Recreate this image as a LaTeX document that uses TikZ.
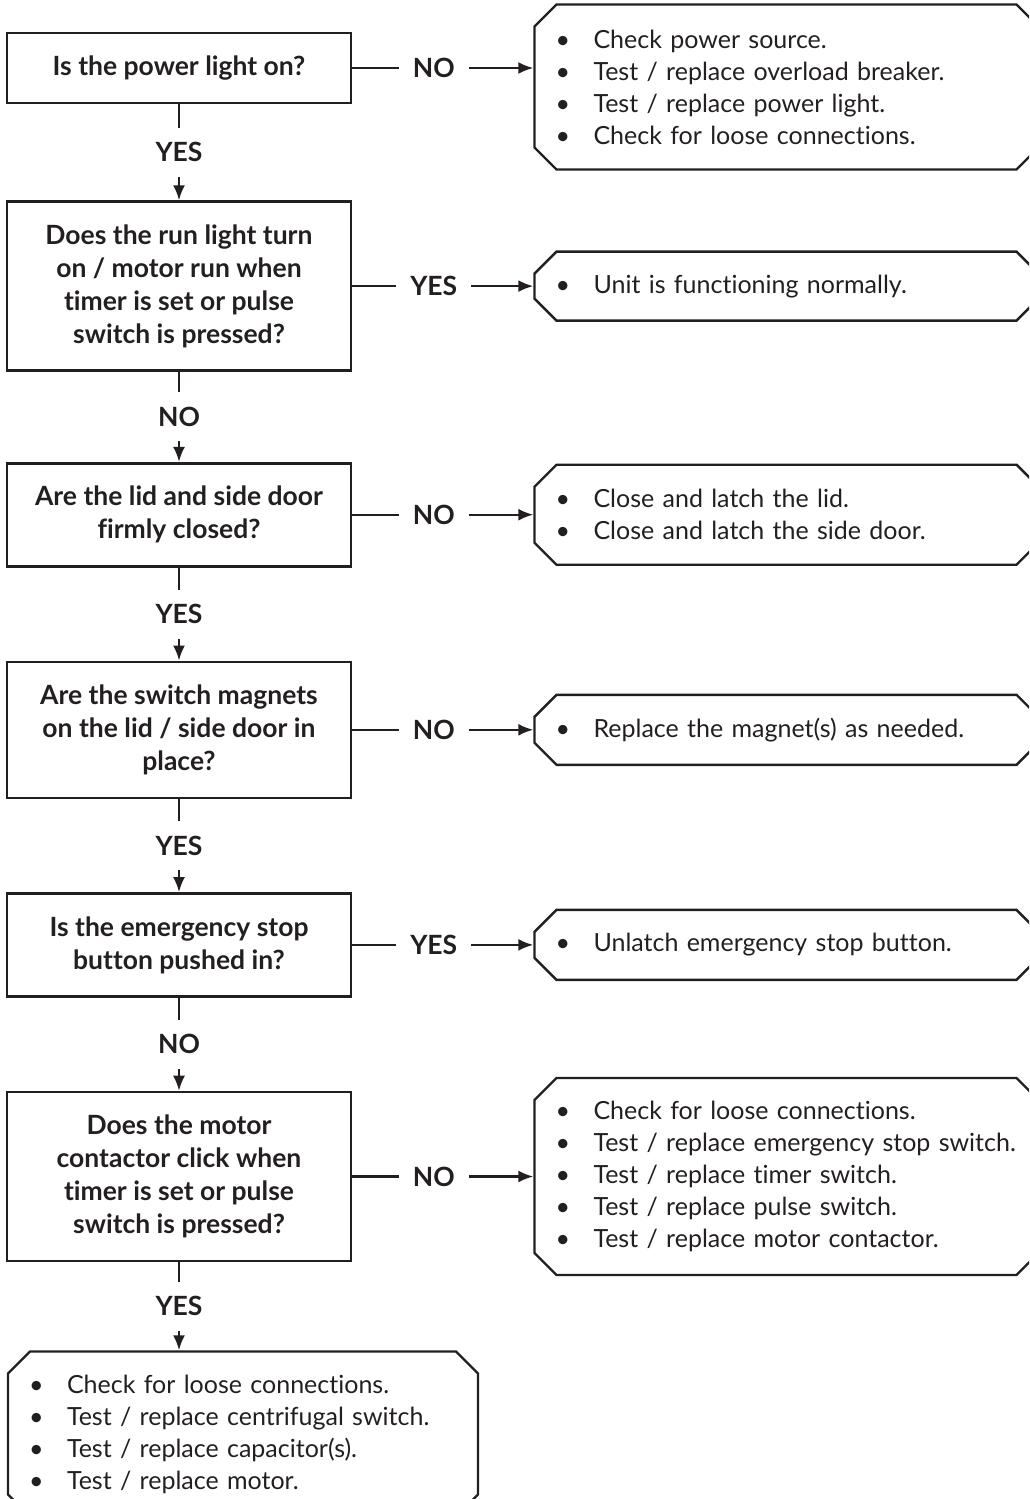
\documentclass[tikz,border=0pt]{standalone}
\usepackage{fontspec}
\setmainfont{Lato}[Ligatures={NoCommon,NoRare}]
\usepackage{tikz}
\usetikzlibrary{shapes.misc,arrows.meta,positioning}

\definecolor{ink}{HTML}{231F20}
\newcommand{\itm}[1]{\makebox[38pt][l]{\textbullet}#1}

\begin{document}
\begin{tikzpicture}[
    x=1pt, y=1pt,
    node distance=93pt and 181pt,
    font=\fontsize{25}{32}\selectfont,
    >={Latex[length=15pt,width=12pt]},
    color=ink,
    qbox/.style={rectangle, draw=ink, line width=2.6pt, minimum width=344pt, align=center, inner sep=4pt, font=\fontsize{26.5}{33}\selectfont\bfseries},
    abox/.style={chamfered rectangle, chamfered rectangle xsep=11pt, chamfered rectangle ysep=11pt, draw=ink, line width=2.4pt, text width=462pt, align=left, inner xsep=10pt, inner ysep=4pt, font=\fontsize{25}{32}\selectfont},
    lbl/.style={fill=white, font=\fontsize{26.5}{33}\selectfont\bfseries, inner xsep=14pt, inner ysep=15pt, text height=19pt, text depth=0pt},
    link/.style={->, draw=ink, line width=2.2pt}
]
\useasboundingbox (0,0) rectangle (1029,-1499);
\clip (0,0) rectangle (1029,-1499);

% Questions
\node[qbox, minimum height=70pt] (q1) at (179,-68) {Is the power light on?};
\node[qbox, minimum height=169pt, below=96pt of q1] (q2) {Does the run light turn\\on / motor run when\\timer is set or pulse\\switch is pressed?};
\node[qbox, minimum height=103pt, below=90pt of q2] (q3) {Are the lid and side door\\firmly closed?};
\node[qbox, minimum height=136pt, below=of q3] (q4) {Are the switch magnets\\on the lid / side door in\\place?};
\node[qbox, minimum height=103pt, below=of q4] (q5) {Is the emergency stop\\button pushed in?};
\node[qbox, minimum height=169pt, below=of q5] (q6) {Does the motor\\contactor click when\\timer is set or pulse\\switch is pressed?};

% Actions
\node[abox, minimum height=165pt, right=of q1, yshift=-19pt] (a1) {\itm{Check power source.}\\\itm{Test / replace overload breaker.}\\\itm{Test / replace power light.}\\\itm{Check for loose connections.}};
\node[abox, minimum height=69pt, right=of q2] (a2) {\itm{Unit is functioning normally.}};
\node[abox, minimum height=100pt, right=of q3] (a3) {\itm{Close and latch the lid.}\\\itm{Close and latch the side door.}};
\node[abox, minimum height=70pt, right=of q4] (a4) {\itm{Replace the magnet(s) as needed.}};
\node[abox, minimum height=70pt, right=of q5] (a5) {\itm{Unlatch emergency stop button.}};
\node[abox, minimum height=197pt, right=of q6] (a6) {\itm{Check for loose connections.}\\\itm{Test / replace emergency stop switch.}\\\itm{Test / replace timer switch.}\\\itm{Test / replace pulse switch.}\\\itm{Test / replace motor contactor.}};
\node[abox, text width=428pt, minimum height=165pt, below=88pt of q6, xshift=64pt] (a7) {\itm{Check for loose connections.}\\\itm{Test / replace centrifugal switch.}\\\itm{Test / replace capacitor(s).}\\\itm{Test / replace motor.}};

% Down the chain
\draw[link] (q1) -- node[lbl]{YES} (q2);
\draw[link] (q2) -- node[lbl]{NO} (q3);
\draw[link] (q3) -- node[lbl]{YES} (q4);
\draw[link] (q4) -- node[lbl]{YES} (q5);
\draw[link] (q5) -- node[lbl]{NO} (q6);
\draw[link] (q6.south) -- node[lbl]{YES} (q6.south |- a7.north);

% Out to the actions
\draw[link] (q1.east) -- node[lbl, pos=.45]{NO} (q1.east -| a1.west);
\draw[link] (q2.east) -- node[lbl, pos=.45]{YES} (q2.east -| a2.west);
\draw[link] (q3.east) -- node[lbl, pos=.45]{NO} (q3.east -| a3.west);
\draw[link] (q4.east) -- node[lbl, pos=.45]{NO} (q4.east -| a4.west);
\draw[link] (q5.east) -- node[lbl, pos=.45]{YES} (q5.east -| a5.west);
\draw[link] (q6.east) -- node[lbl, pos=.45]{NO} (q6.east -| a6.west);

\end{tikzpicture}
\end{document}
